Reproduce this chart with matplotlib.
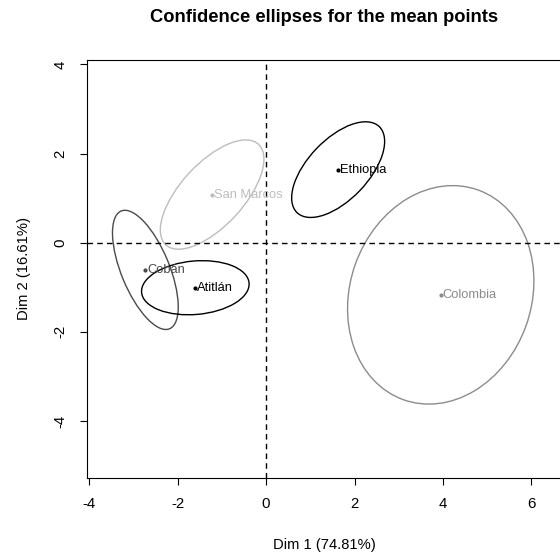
import numpy as np
import matplotlib
matplotlib.use("Agg")
import matplotlib.pyplot as plt
from matplotlib.patches import Ellipse

plt.rcParams["font.family"] = ["Liberation Sans", "DejaVu Sans"]
plt.rcParams["axes.unicode_minus"] = False

# ── Data ──
origins = ["San Marcos", "Ethiopia", "Cobán", "Atitlán", "Colombia"]
dim1 = [-1.22, 1.63, -2.73, -1.60, 3.95]
dim2 = [1.08, 1.64, -0.61, -1.01, -1.17]
# ellipse semi-axes (data units) and rotation (degrees)
semi_major = [1.54, 1.34, 1.43, 1.22, 2.50]
semi_minor = [0.71, 0.68, 0.545, 0.60, 2.05]
angles = [47, 46, 112.5, 5, 70]
colours = ["#bdbdbd", "#000000", "#4a4a4a", "#000000", "#8c8c8c"]

x_ticks = [-4, -2, 0, 2, 4, 6]
y_ticks = [-4, -2, 0, 2, 4]

fig = plt.figure(figsize=(5.6, 5.6), dpi=100)
ax = fig.add_axes([87 / 560, 1 - 478 / 560, (561 - 87) / 560, (478 - 60) / 560])

# ── Reference lines ──
ax.axhline(0, color="black", lw=1, ls=(0, (4, 3)))
ax.axvline(0, color="black", lw=1, ls=(0, (4, 3)))

# ── Ellipses, points, labels ──
for name, x, y, a, b, ang, c in zip(origins, dim1, dim2, semi_major,
                                      semi_minor, angles, colours):
    ax.add_patch(Ellipse((x, y), 2 * a, 2 * b, angle=ang,
                         fill=False, edgecolor=c, lw=1))
    ax.plot(x, y, "o", color=c, ms=2)
    ax.annotate(name, (x, y), xytext=(1.5, 0), textcoords="offset points",
                ha="left", va="center", fontsize=9.3, color=c)

ax.set_xlim(-4.05, 6.67)
ax.set_ylim(-5.28, 4.1)
ax.set_xticks(x_ticks)
ax.set_yticks(y_ticks)
ax.tick_params(direction="out", length=5, width=0.8, labelsize=10.8)
ax.tick_params(axis="x", pad=9)
ax.tick_params(axis="y", pad=9)
for lbl in ax.get_yticklabels():
    lbl.set_rotation(90)
    lbl.set_va("center")

ax.set_xlabel("Dim 1 (74.81%)", fontsize=10.6, labelpad=19)
ax.set_ylabel("Dim 2 (16.61%)", fontsize=10.6, labelpad=16)
fig.text(324 / 560, 1 - 18 / 560, "Confidence ellipses for the mean points",
         ha="center", va="center", fontsize=13.2, fontweight="bold")

fig.savefig("out.png", dpi=100)
plt.close()
